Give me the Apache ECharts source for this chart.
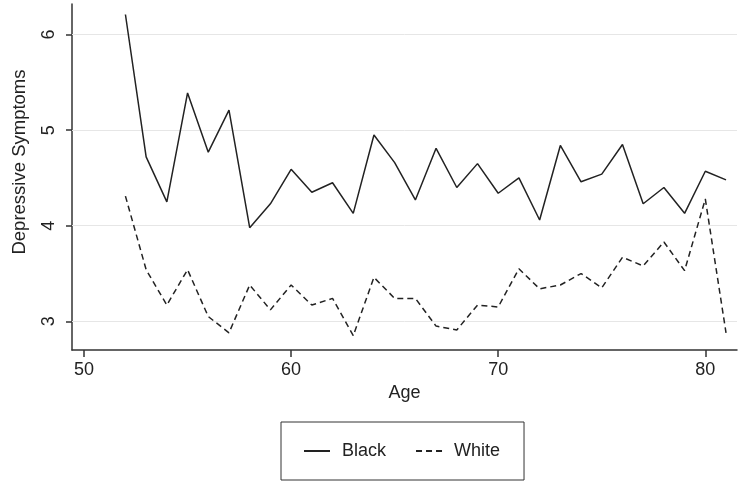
<!DOCTYPE html>
<html>
<head>
<meta charset="utf-8">
<script src="https://cdn.jsdelivr.net/npm/echarts@6/dist/echarts.min.js"></script>
<style>html,body{margin:0;padding:0;background:#fff;}#c{width:750px;height:484px;}</style>
</head>
<body>
<div id="c"></div>
<script>
var ages = [52,53,54,55,56,57,58,59,60,61,62,63,64,65,66,67,68,69,70,71,72,73,74,75,76,77,78,79,80,81];
var blackVals = [6.21,4.72,4.25,5.39,4.77,5.21,3.98,4.23,4.59,4.35,4.45,4.13,4.95,4.66,4.27,4.81,4.40,4.65,4.34,4.50,4.06,4.84,4.46,4.54,4.85,4.23,4.40,4.13,4.57,4.48];
var whiteVals = [4.31,3.54,3.17,3.54,3.05,2.88,3.38,3.12,3.38,3.17,3.24,2.85,3.46,3.24,3.24,2.95,2.91,3.17,3.15,3.55,3.34,3.38,3.50,3.35,3.67,3.58,3.83,3.53,4.28,2.88];
var xTicks = [50,60,70,80];
var yTicks = [3,4,5,6];
var seriesNames = ['Black','White'];

function pairs(xs, ys){ return xs.map(function(x,i){ return [x, ys[i]]; }); }

var font = 'Liberation Sans, Arial, sans-serif';
var chart = echarts.init(document.getElementById('c'), null, {renderer:'canvas'});
chart.setOption({
  animation:false,
  backgroundColor:'#ffffff',
  grid:{left:72, right:13, top:4, bottom:134, containLabel:false},
  xAxis:{
    type:'value', min:49.42, max:81.53,
    name:'Age', nameLocation:'middle', nameGap:27,
    nameTextStyle:{fontFamily:font, fontSize:18, color:'#222'},
    axisLine:{show:true, onZero:false, lineStyle:{color:'#333', width:1.5}},
    axisTick:{show:true, customValues:xTicks, length:7, lineStyle:{color:'#333', width:1.5}},
    axisLabel:{customValues:xTicks, margin:11, fontFamily:font, fontSize:18, color:'#222'},
    splitLine:{show:false}
  },
  yAxis:{
    type:'value', min:2.70, max:6.32,
    axisLine:{show:true, onZero:false, lineStyle:{color:'#333', width:1.5}},
    axisTick:{show:true, customValues:yTicks, length:6, lineStyle:{color:'#333', width:1.5}},
    axisLabel:{customValues:yTicks, rotate:90, margin:14, fontFamily:font, fontSize:18, color:'#222'},
    splitLine:{show:false}
  },
  graphic:[{
    type:'text', x:20, y:162, rotation:Math.PI/2,
    style:{text:'Depressive Symptoms', fontFamily:font, fontSize:18.5, fill:'#222', align:'center', verticalAlign:'middle'}
  }],
  legend:{
    left:281, top:422,
    orient:'horizontal',
    padding:[20,24,20,22],
    borderColor:'#333', borderWidth:1,
    itemWidth:26, itemHeight:14, itemGap:29,
    itemStyle:{opacity:0},
    textStyle:{fontFamily:font, fontSize:18, color:'#222', padding:[0,0,0,7]},
    data:seriesNames
  },
  series:[
    {
      name:seriesNames[0], type:'line', data:pairs(ages, blackVals),
      symbol:'none', z:3,
      lineStyle:{color:'#222', width:1.5, type:'solid'},
      itemStyle:{color:'#222'},
      markLine:{
        silent:true, symbol:'none', z:1,
        label:{show:false},
        lineStyle:{color:'#e6e6e6', width:1, type:'solid'},
        data: yTicks.map(function(v){ return {yAxis:v}; })
      }
    },
    {
      name:seriesNames[1], type:'line', data:pairs(ages, whiteVals),
      symbol:'none', z:3,
      lineStyle:{color:'#222', width:1.5, type:[6,4]},
      itemStyle:{color:'#222'}
    }
  ]
});
</script>
</body>
</html>
